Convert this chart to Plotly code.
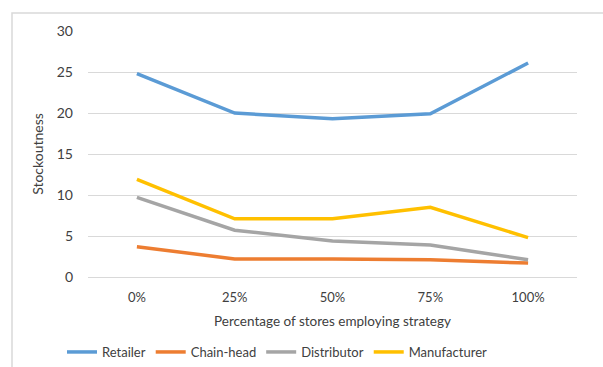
import plotly.graph_objects as go

categories = ["0%", "25%", "50%", "75%", "100%"]
retailer = [24.8, 20.0, 19.3, 19.9, 26.1]
chain_head = [3.7, 2.2, 2.2, 2.1, 1.7]
distributor = [9.7, 5.7, 4.4, 3.9, 2.1]
manufacturer = [11.9, 7.1, 7.1, 8.5, 4.8]
y_ticks = [0, 5, 10, 15, 20, 25, 30]

series = [
    ("Retailer", retailer, "#5b9bd5"),
    ("Chain-head", chain_head, "#ed7d31"),
    ("Distributor", distributor, "#a5a5a5"),
    ("Manufacturer", manufacturer, "#ffc000"),
]

W, H = 603, 367
L, R, T, B = 88, 26, 31, 90
pw, ph = W - L - R, H - T - B

fig = go.Figure()
for name, vals, color in series:
    fig.add_trace(go.Scatter(
        x=list(range(len(categories))), y=vals, name=name, mode="lines",
        line=dict(color=color, width=3.5),
    ))

font = "Lato, 'Open Sans', sans-serif"
fig.update_layout(
    width=W, height=H,
    margin=dict(l=L, r=R, t=T, b=B, autoexpand=False),
    paper_bgcolor="white", plot_bgcolor="white",
    font=dict(family=font, size=13, color="#404040"),
    showlegend=True,
    legend=dict(
        orientation="h", x=(62 - L) / pw, xanchor="left",
        y=-(351 - 277 - 14) / ph, yanchor="top",
        font=dict(size=13, color="#404040"),
        itemwidth=30, tracegroupgap=0,
        bgcolor="rgba(0,0,0,0)",
    ),
    xaxis=dict(
        tickmode="array", tickvals=list(range(len(categories))), ticktext=categories,
        range=[-0.5, len(categories) - 0.5], showgrid=False, zeroline=False,
        showline=False, ticks="", ticklen=0, ticklabelstandoff=11, automargin=False,
        title=dict(text="Percentage of stores employing strategy", font=dict(size=13.5, color="#404040"), standoff=12),
        tickfont=dict(size=13, color="#404040"),
    ),
    yaxis=dict(
        range=[0, 30], tickvals=y_ticks, showgrid=True, gridcolor="#d9d9d9", gridwidth=1,
        zeroline=True, zerolinecolor="#d9d9d9", zerolinewidth=1, showline=False,
        ticks="", ticklabelstandoff=14, automargin=False,
        title=dict(text="Stockoutness", font=dict(size=14, color="#404040"), standoff=9),
        tickfont=dict(size=14, color="#404040"),
    ),
)

# Outer chart frame
fig.add_shape(
    type="rect", xref="paper", yref="paper",
    x0=(12 - L) / pw, x1=(W + 20 - L) / pw,
    y0=-(H + 20 - (T + ph)) / ph, y1=(T + ph - 13) / ph,
    line=dict(color="#d9d9d9", width=1.5), fillcolor="rgba(0,0,0,0)", layer="below",
)

fig.write_html("out.html")
